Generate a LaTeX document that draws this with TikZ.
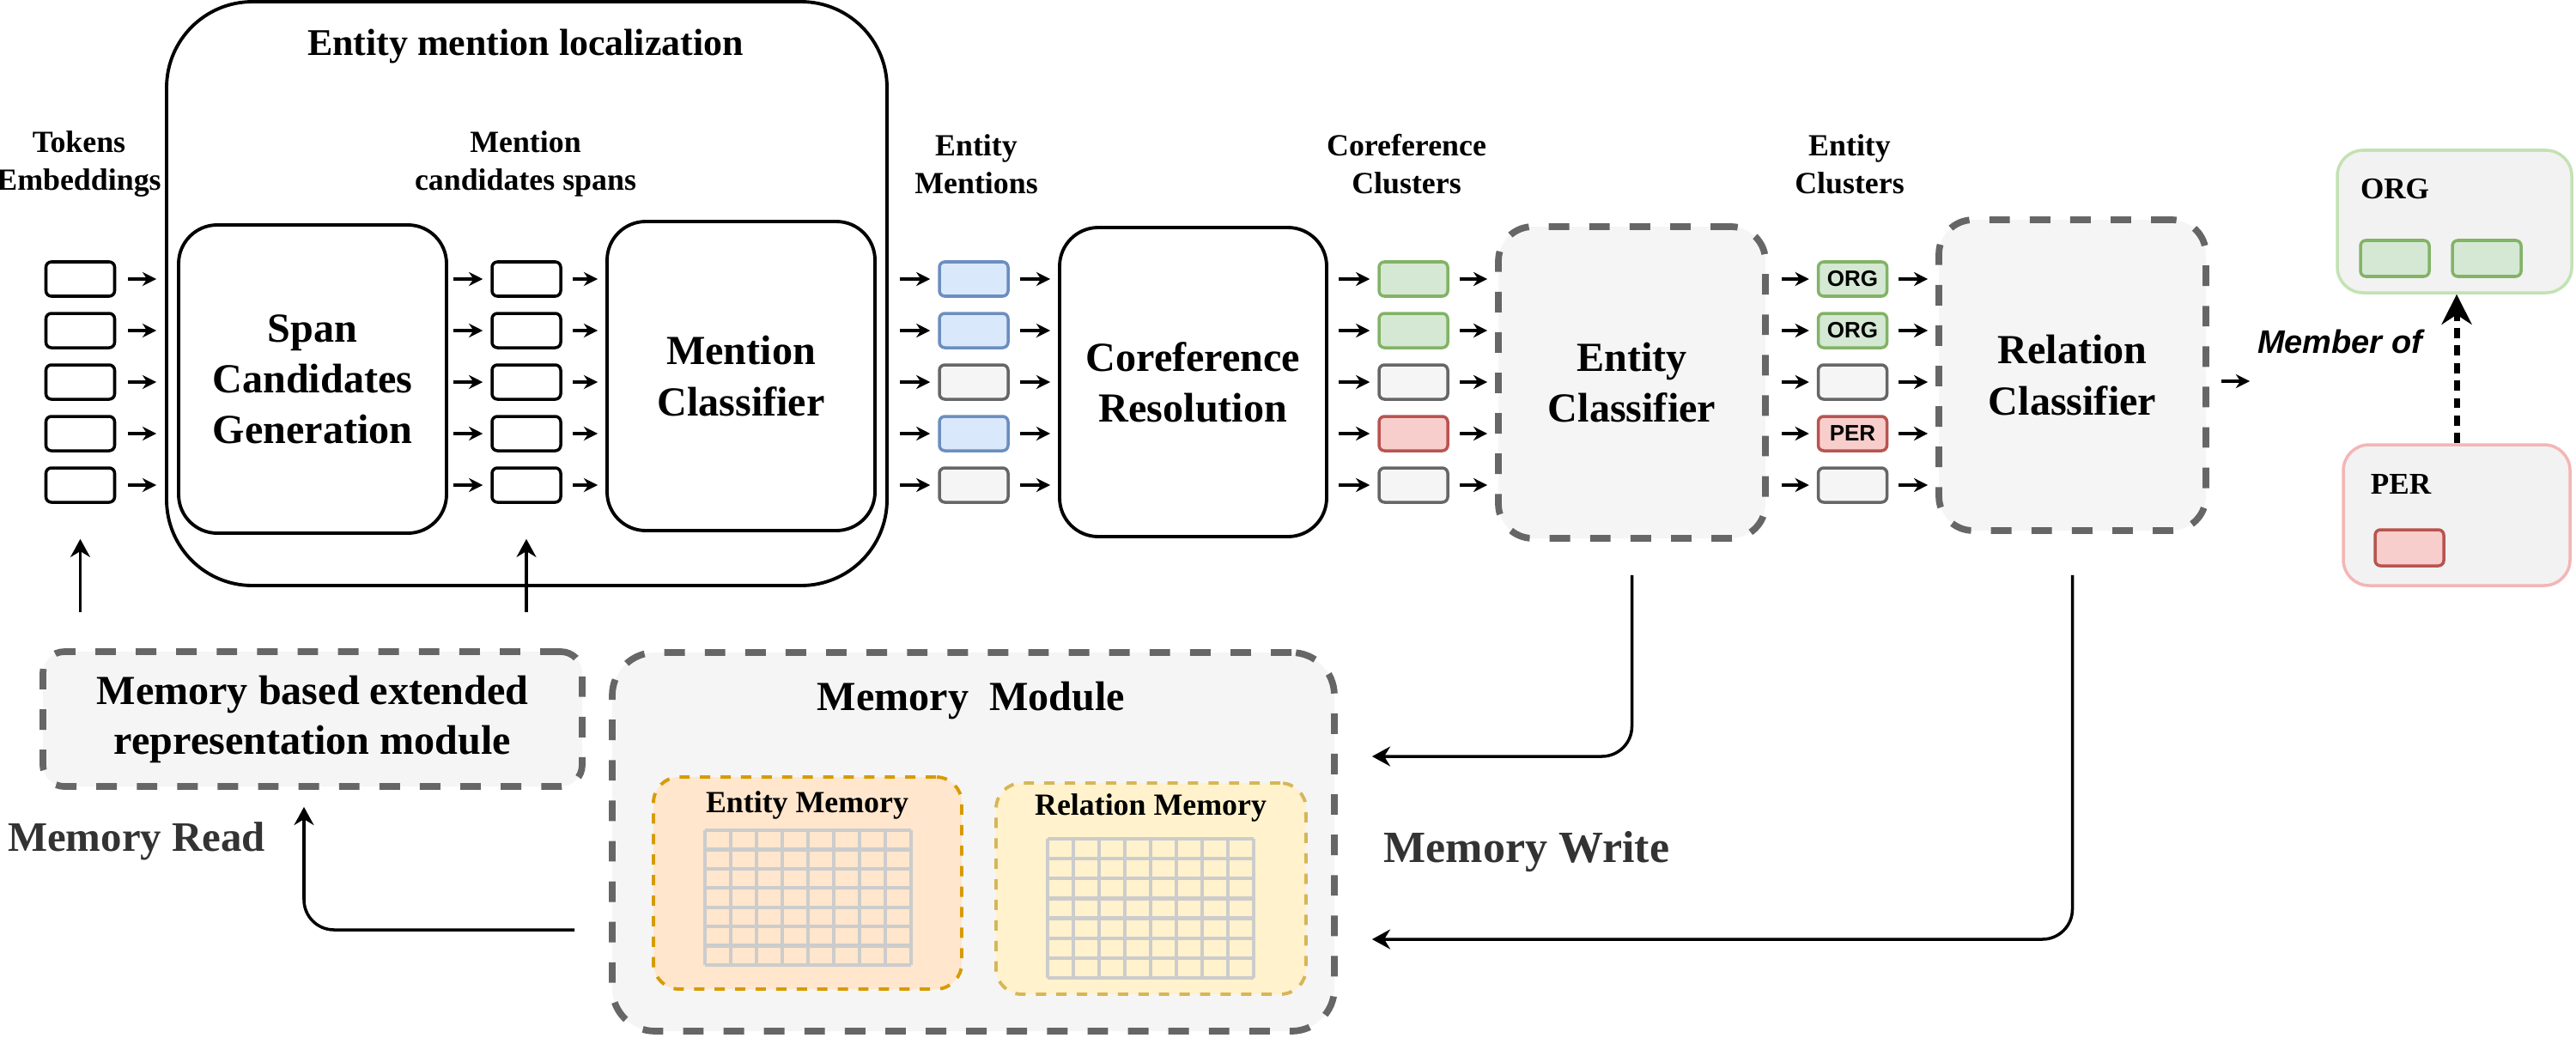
\documentclass[tikz,border=0pt]{standalone}
\usepackage{fontspec}
\setmainfont{Liberation Serif}
\newfontfamily\tagfont{Liberation Sans}
\usetikzlibrary{arrows.meta}

\definecolor{l-white}{HTML}{000000}
\definecolor{f-white}{HTML}{FFFFFF}
\definecolor{l-blue}{HTML}{6C8EBF}
\definecolor{f-blue}{HTML}{DAE8FC}
\definecolor{l-green}{HTML}{82B366}
\definecolor{f-green}{HTML}{D5E8D4}
\definecolor{l-red}{HTML}{B85450}
\definecolor{f-red}{HTML}{F8CECC}
\definecolor{l-gray}{HTML}{666666}
\definecolor{f-gray}{HTML}{F5F5F5}
\definecolor{l-orange}{HTML}{D79B00}
\definecolor{f-orange}{HTML}{FFE6CC}
\definecolor{l-yellow}{HTML}{D6B656}
\definecolor{f-yellow}{HTML}{FFF2CC}
\definecolor{l-org}{HTML}{C3E2B3}
\definecolor{l-per}{HTML}{F3B6B5}
\definecolor{f-group}{HTML}{F2F2F2}
\definecolor{gridgray}{HTML}{CCCCCC}
\definecolor{memtext}{HTML}{333333}

\tikzset{
  cell/.style={draw=l-#1, fill=f-#1, line width=1pt, rounded corners=1.8pt,
    minimum width=0.8cm, minimum height=0.4cm, inner sep=0pt},
  cell/.default=white,
  block/.style={draw, line width=1.1pt, rounded corners=0.45cm, align=center,
    font=\fontsize{13.7}{16.8}\selectfont\bfseries},
  dashblock/.style={block, draw=l-gray, fill=f-gray, line width=2.2pt,
    dash pattern=on 6.8pt off 6.6pt, rounded corners=0.4cm},
  collabel/.style={align=center, font=\fontsize{10.2}{12.5}\selectfont\bfseries},
  memblock/.style={draw=l-#1, fill=f-#1, line width=1.1pt,
    dash pattern=on 3.4pt off 3.4pt, rounded corners=0.3cm, inner sep=0pt},
  group/.style={draw=l-#1, fill=f-group, line width=1pt, rounded corners=0.3cm, inner sep=0pt},
  arr/.style={-{Stealth[length=4.6pt,width=4.6pt]}, line width=1.1pt,
    shorten <=0.12cm, shorten >=0.09cm},
  longarr/.style={-{Stealth[length=6pt,width=6.5pt]}, line width=1pt, rounded corners=0.35cm},
  gridline/.style={draw=gridgray, line width=1.2pt},
  memlabel/.style={text=memtext, font=\fontsize{13.9}{16}\selectfont\bfseries}
}

\begin{document}
\begin{tikzpicture}
\useasboundingbox (0,0) rectangle (30,12.08);

%Entity mention localization
\node[block, minimum width=8.39cm, minimum height=6.80cm, rounded corners=1cm] (EML) at (6.135,8.66) {};
\node[font=\fontsize{12.5}{15}\selectfont\bfseries] (EMLtitle) at (6.12,11.54) {Entity mention localization};
\node[block, minimum width=3.12cm, minimum height=3.59cm] (SpanGen) at (3.64,7.665) {Span\\Candidates\\Generation};
\node[block, minimum width=3.12cm, minimum height=3.60cm] (MentionCl) at (8.63,7.70) {Mention\\Classifier};

%Coreference, Entity and Relation
\node[block, minimum width=3.11cm, minimum height=3.60cm] (CorefRes) at (13.895,7.63) {Coreference\\Resolution};
\node[dashblock, minimum width=3.11cm, minimum height=3.63cm] (EntityCl) at (19.005,7.625) {Entity\\Classifier};
\node[dashblock, minimum width=3.11cm, minimum height=3.62cm] (RelationCl) at (24.135,7.71) {Relation\\Classifier};

%Column labels
\node[collabel] (TokLabel) at (0.92,10.17) {Tokens\\Embeddings};
\node[collabel] (SpanLabel) at (6.12,10.17) {Mention\\candidates spans};
\node[collabel] (MenLabel) at (11.37,10.17) {Entity\\Mentions};
\node[collabel] (CorefLabel) at (16.38,10.17) {Coreference\\Clusters};
\node[collabel] (EntLabel) at (21.54,10.17) {Entity\\Clusters};

%Tokens and span candidates
\foreach \i/\y in {1/8.83,2/8.23,3/7.63,4/7.03,5/6.43}{
  \node[cell=white] (tok\i) at (0.935,\y) {};
  \node[cell=white] (span\i) at (6.13,\y) {};
  \draw[arr, shorten <=0.14cm, shorten >=0.24cm] (tok\i.east) -- (tok\i.east -| SpanGen.west);
  \draw[arr, shorten <=0.06cm] (SpanGen.east |- span\i) -- (span\i.west);
  \draw[arr] (span\i.east) -- (span\i.east -| MentionCl.west);
}

%Entity mentions
\foreach \i/\y/\clr in {1/8.83/blue,2/8.23/blue,3/7.63/gray,4/7.03/blue,5/6.43/gray}{
  \node[cell=\clr] (men\i) at (11.34,\y) {};
  \draw[arr, shorten <=0.27cm] (MentionCl.east |- men\i) -- (men\i.west);
  \draw[arr] (men\i.east) -- (men\i.east -| CorefRes.west);
}

%Coreference clusters
\foreach \i/\y/\clr in {1/8.83/green,2/8.23/green,3/7.63/gray,4/7.03/red,5/6.43/gray}{
  \node[cell=\clr] (coref\i) at (16.46,\y) {};
  \draw[arr] (CorefRes.east |- coref\i) -- (coref\i.west);
  \draw[arr] (coref\i.east) -- (coref\i.east -| EntityCl.west);
}

%Entity clusters
\foreach \i/\y/\clr/\tag in {1/8.83/green/ORG,2/8.23/green/ORG,3/7.63/gray/{},4/7.03/red/PER,5/6.43/gray/{}}{
  \node[cell=\clr, font=\tagfont\fontsize{7.4}{8}\selectfont\bfseries] (ent\i) at (21.575,\y) {\tag};
  \draw[arr, shorten <=0.15cm] (EntityCl.east |- ent\i) -- (ent\i.west);
  \draw[arr] (ent\i.east) -- (ent\i.east -| RelationCl.west);
}

\coordinate (RelOut) at (26.20,7.64);
\draw[arr, shorten <=0.14cm, shorten >=0pt] (RelationCl.east |- RelOut) -- (RelOut);

%Relation example
\node[group=org, minimum width=2.73cm, minimum height=1.66cm] (ORGgroup) at (28.585,9.50) {};
\node[font=\fontsize{10}{12}\selectfont\bfseries] (ORGtitle) at (27.89,9.88) {ORG};
\node[cell=green, minimum height=0.42cm] (orgA) at (27.89,9.07) {};
\node[cell=green, minimum height=0.42cm] (orgB) at (28.96,9.07) {};
\node[group=per, minimum width=2.64cm, minimum height=1.64cm] (PERgroup) at (28.61,6.08) {};
\node[font=\fontsize{10}{12}\selectfont\bfseries] (PERtitle) at (27.96,6.44) {PER};
\node[cell=red, minimum height=0.42cm] (perA) at (28.06,5.70) {};
\draw[-{Stealth[length=10pt,width=10pt]}, line width=2pt, dash pattern=on 3.4pt off 2.4pt]
  (PERgroup.north) -- (PERgroup.north |- ORGgroup.south);
\node[font=\tagfont\fontsize{10.8}{13}\selectfont\bfseries\itshape] (MemberOf) at (27.25,8.10) {Member of};

%Memory based extended representation
\node[dashblock, minimum width=6.28cm, minimum height=1.57cm, rounded corners=0.25cm,
  font=\fontsize{13.7}{16.5}\selectfont\bfseries] (MemExt) at (3.64,3.705) {Memory based extended\\representation module};
\draw[longarr, shorten <=0.42cm, shorten >=0.41cm] (MemExt.north -| tok5) -- (tok5.south);
\draw[longarr, shorten <=0.42cm, shorten >=0.41cm] (MemExt.north -| span5) -- (span5.south);

%Memory module
\node[dashblock, minimum width=8.41cm, minimum height=4.41cm, rounded corners=0.5cm] (MemModule) at (11.335,2.275) {};
\node[font=\fontsize{13.7}{16}\selectfont\bfseries] (MemTitle) at (11.31,3.92) {Memory\ \ Module};

\node[memblock=orange, minimum width=3.59cm, minimum height=2.47cm] (EntMem) at (9.405,1.795) {};
\node[font=\fontsize{10.2}{12}\selectfont\bfseries] (EntMemTitle) at (9.40,2.70) {Entity Memory};
\begin{scope}[shift={(8.21,0.84)}]
  \foreach \k in {0,...,8} \draw[gridline] (0.3*\k,0) -- (0.3*\k,1.57);
  \foreach \k in {0,...,7} \draw[gridline] (0,0.2243*\k) -- (2.4,0.2243*\k);
\end{scope}

\node[memblock=yellow, minimum width=3.61cm, minimum height=2.46cm] (RelMem) at (13.405,1.73) {};
\node[font=\fontsize{10.2}{12}\selectfont\bfseries] (RelMemTitle) at (13.40,2.67) {Relation Memory};
\begin{scope}[shift={(12.20,0.69)}]
  \foreach \k in {0,...,8} \draw[gridline] (0.3*\k,0) -- (0.3*\k,1.62);
  \foreach \k in {0,...,7} \draw[gridline] (0,0.2314*\k) -- (2.4,0.2314*\k);
\end{scope}

%Memory read and write
\coordinate (ReadTurn) at (3.54,1.25);
\draw[longarr, shorten <=0.40cm, shorten >=0.20cm] (MemModule.west |- ReadTurn) -- (ReadTurn) -- (ReadTurn |- MemExt.south);
\node[memlabel] (ReadLabel) at (1.59,2.28) {Memory Read};

\coordinate (EntWrite) at (19.005,3.27);
\coordinate (RelWrite) at (24.135,1.14);
\draw[longarr, shorten <=0.39cm, shorten >=0.40cm] (EntityCl.south) -- (EntWrite) -- (MemModule.east |- EntWrite);
\draw[longarr, shorten <=0.48cm, shorten >=0.40cm] (RelationCl.south) -- (RelWrite) -- (MemModule.east |- RelWrite);
\node[memlabel, font=\fontsize{14.8}{17}\selectfont\bfseries] (WriteLabel) at (17.78,2.16) {Memory Write};

\end{tikzpicture}
\end{document}
